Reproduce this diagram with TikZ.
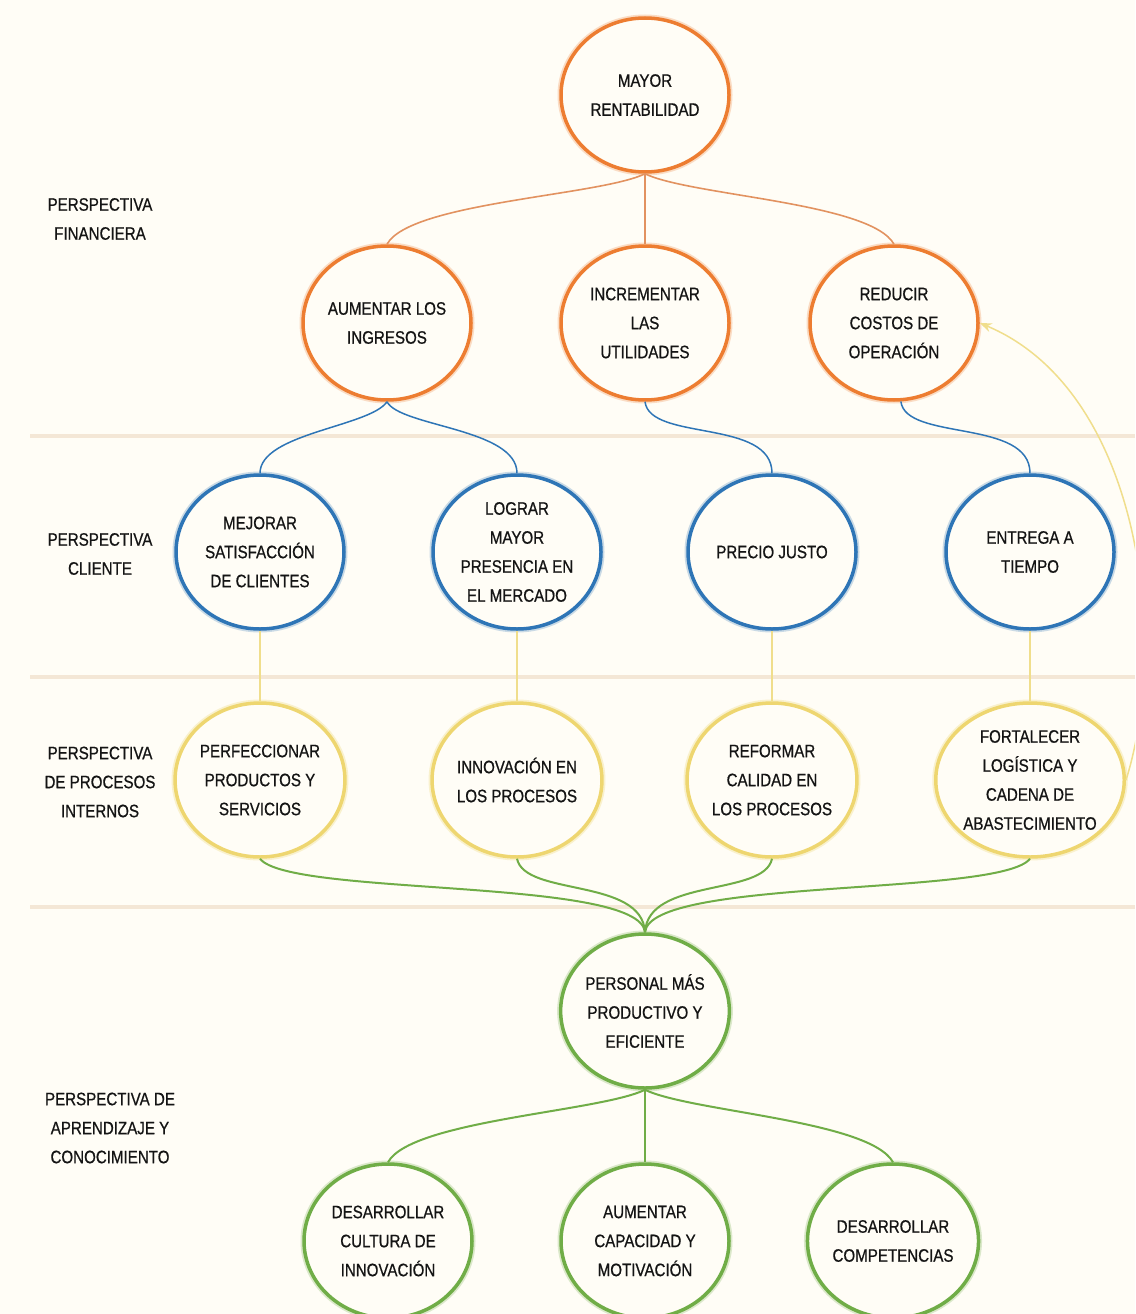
\documentclass[tikz,border=0pt]{standalone}
\usepackage{fontspec}
\setmainfont{Liberation Sans}[FakeStretch=0.84,FakeBold=0.7]
\usetikzlibrary{shapes.geometric,arrows.meta}
\definecolor{bgc}{RGB}{255,253,246}
\definecolor{orc}{RGB}{237,125,49}
\definecolor{orl}{RGB}{226,146,96}
\definecolor{blc}{RGB}{46,117,182}
\definecolor{ylc}{RGB}{238,214,112}
\definecolor{yll}{RGB}{240,222,140}
\definecolor{grc}{RGB}{112,173,71}
\definecolor{sepc}{RGB}{244,231,214}
\definecolor{txc}{RGB}{20,20,20}
\tikzset{
  obj/.style={ellipse, minimum width=168pt, minimum height=154pt, inner sep=0pt,
    line width=3.5pt, fill=bgc, align=center, text=txc,
    font=\fontsize{18}{29}\selectfont},
  fin/.style={obj, draw=orc, preaction={draw=orc, draw opacity=0.25, line width=7pt}},
  cli/.style={obj, draw=blc, preaction={draw=blc, draw opacity=0.25, line width=7pt}},
  pro/.style={obj, draw=ylc, preaction={draw=ylc, draw opacity=0.3, line width=7pt}},
  apr/.style={obj, draw=grc, preaction={draw=grc, draw opacity=0.25, line width=7pt}},
  persp/.style={align=center, text=txc, font=\fontsize{18}{29}\selectfont},
  sepline/.style={draw=sepc, line width=4pt},
  cfin/.style={draw=orl, line width=1.6pt},
  ccli/.style={draw=blc, line width=1.5pt},
  cpro/.style={draw=yll, line width=1.5pt},
  capr/.style={draw=grc, line width=2pt},
}
\begin{document}
\begin{tikzpicture}[x=1pt,y=-1pt]
\fill[bgc] (0,0) rectangle (1135,1314);
\useasboundingbox (0,0) rectangle (1135,1314);
\clip (0,0) rectangle (1135,1314);

% separators
\draw[sepline] (30,436) -- (1135,436);
\draw[sepline] (30,677) -- (1135,677);
\draw[sepline] (30,907) -- (1135,907);

% perspective labels
\node[persp] (lf) at (100,219) {PERSPECTIVA\\FINANCIERA};
\node[persp] (lc) at (100,554) {PERSPECTIVA\\CLIENTE};
\node[persp] (lp) at (100,782) {PERSPECTIVA\\DE PROCESOS\\INTERNOS};
\node[persp] (la) at (110,1128) {PERSPECTIVA DE\\APRENDIZAJE Y\\CONOCIMIENTO};

% financial
\node[fin] (mr) at (645,95) {MAYOR\\RENTABILIDAD};
\node[fin] (ai) at (387,323) {AUMENTAR LOS\\INGRESOS};
\node[fin] (iu) at (645,323) {INCREMENTAR\\LAS\\UTILIDADES};
\node[fin] (rc) at (894,323) {REDUCIR\\COSTOS DE\\OPERACIÓN};
% client
\node[cli] (ms) at (260,552) {MEJORAR\\SATISFACCIÓN\\DE CLIENTES};
\node[cli] (lm) at (517,552) {LOGRAR\\MAYOR\\PRESENCIA EN\\EL MERCADO};
\node[cli] (pj) at (772,552) {PRECIO JUSTO};
\node[cli] (et) at (1030,552) {ENTREGA A\\TIEMPO};
% internal processes
\node[pro] (pp) at (260,780) {PERFECCIONAR\\PRODUCTOS Y\\SERVICIOS};
\node[pro] (ip) at (517,780) {INNOVACIÓN EN\\LOS PROCESOS};
\node[pro] (rf) at (772,780) {REFORMAR\\CALIDAD EN\\LOS PROCESOS};
\node[pro] (fl) at (1030,780) {FORTALECER\\LOGÍSTICA Y\\CADENA DE\\ABASTECIMIENTO};
% learning
\node[apr] (pm) at (645,1011) {PERSONAL MÁS\\PRODUCTIVO Y\\EFICIENTE};
\node[apr] (dc) at (388,1241) {DESARROLLAR\\CULTURA DE\\INNOVACIÓN};
\node[apr] (ac) at (645,1241) {AUMENTAR\\CAPACIDAD Y\\MOTIVACIÓN};
\node[apr] (dm) at (893,1241) {DESARROLLAR\\COMPETENCIAS};

% financial connectors
\draw[cfin] (mr.south) .. controls +(-45,22) and +(23,-42) .. (ai.north);
\draw[cfin] (mr.south) -- (iu.north);
\draw[cfin] (mr.south) .. controls +(45,22) and +(-23,-42) .. (rc.north);
% client connectors
\draw[ccli] (ai.south) .. controls +(-17,25) and +(0,-40) .. (ms.north);
\draw[ccli] (ai.south) .. controls +(13,25) and +(0,-45) .. (lm.north);
\draw[ccli] (iu.south) .. controls +(5,40) and +(0,-55) .. (pj.north);
\draw[ccli] (rc.-85) .. controls +(5,40) and +(0,-55) .. (et.north);
% process connectors
\draw[cpro] (ms.south) -- (pp.north);
\draw[cpro] (lm.south) -- (ip.north);
\draw[cpro] (pj.south) -- (rf.north);
\draw[cpro] (et.south) -- (fl.north);
\draw[cpro, -{Stealth[length=12pt,width=9pt]}] (fl.east) .. controls (1170,640) and (1140,390) .. (rc.east);
% learning connectors
\draw[capr] (pp.south) .. controls +(30,38) and +(-5,-55) .. (pm.north);
\draw[capr] (ip.south) .. controls +(8,38) and +(-3,-55) .. (pm.north);
\draw[capr] (rf.south) .. controls +(-8,38) and +(3,-55) .. (pm.north);
\draw[capr] (fl.south) .. controls +(-30,38) and +(5,-55) .. (pm.north);
\draw[capr] (pm.south) .. controls +(-45,22) and +(23,-42) .. (dc.north);
\draw[capr] (pm.south) -- (ac.north);
\draw[capr] (pm.south) .. controls +(45,22) and +(-23,-42) .. (dm.north);
\end{tikzpicture}
\end{document}
